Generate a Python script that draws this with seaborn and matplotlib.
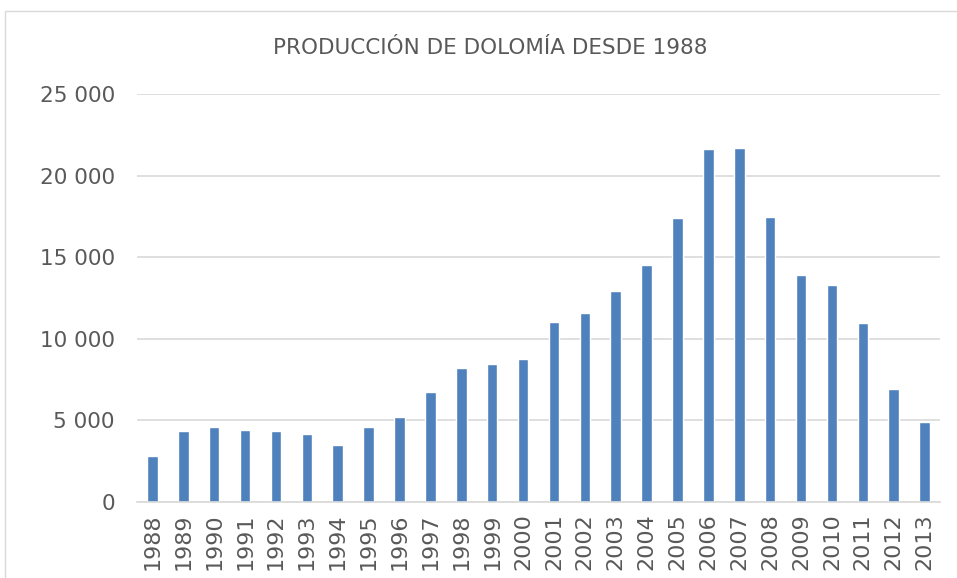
import matplotlib
matplotlib.use("Agg")
import matplotlib.pyplot as plt
import matplotlib.ticker as mticker
import seaborn as sns
import pandas as pd
from matplotlib.patches import Rectangle

# data
years = [str(y) for y in range(1988, 2014)]
production = [2800, 4360, 4570, 4400, 4360, 4180, 3500, 4610, 5190, 6750,
              8190, 8470, 8760, 11030, 11580, 12950, 14550, 17380, 21600,
              21700, 17450, 13880, 13270, 10980, 6930, 4880]

df = pd.DataFrame({"year": years, "production": production})

sns.set_style("white")
plt.rcParams['font.family'] = ['DejaVu Sans']
text_color = "#595959"

fig = plt.figure(figsize=(9.57, 5.78), dpi=100)
ax = fig.add_axes([137 / 957, 1 - 502 / 578, 803 / 957, 408 / 578])

sns.barplot(data=df, x="year", y="production", color="#4f81bd",
            width=0.34, saturation=1, ax=ax)

ax.set_xlim(-0.5, len(years) - 0.5)
ax.set_ylim(0, 25000)
ax.yaxis.set_major_locator(mticker.MultipleLocator(5000))
ax.yaxis.set_major_formatter(
    mticker.FuncFormatter(lambda v, p: f"{int(v):,}".replace(",", " ")))
ax.grid(axis="y", color="#d9d9d9", linewidth=1.2)
ax.set_axisbelow(True)
for s in ["top", "right", "left"]:
    ax.spines[s].set_visible(False)
ax.spines["bottom"].set_color("#d9d9d9")
ax.spines["bottom"].set_linewidth(1.2)

ax.tick_params(axis="y", length=0, pad=16, labelsize=15.5, labelcolor=text_color)
ax.tick_params(axis="x", length=0, pad=8, labelsize=16, labelcolor=text_color,
               rotation=90)
ax.set_xlabel("")
ax.set_ylabel("")

fig.text(0.512, 1 - 48 / 578, "PRODUCCIÓN DE DOLOMÍA DESDE 1988",
         ha="center", va="center", fontsize=15.5, color=text_color)

# chart border like the spreadsheet frame
fig.patches.append(Rectangle((5 / 957, -0.05), 1.2, 1 - 11 / 578 + 0.05,
                             transform=fig.transFigure, fill=False,
                             edgecolor="#d9d9d9", linewidth=1))

fig.savefig("out.png", dpi=100)
